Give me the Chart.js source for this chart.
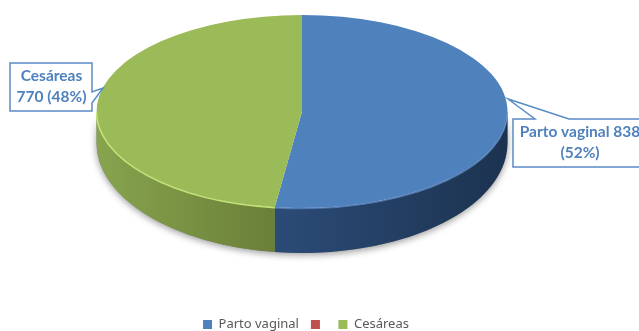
<!DOCTYPE html>
<html>
<head>
<meta charset="utf-8">
<script src="https://cdn.jsdelivr.net/npm/chart.js@4"></script>
<style>
  html, body { margin: 0; padding: 0; background: #fff; overflow: hidden; }
  #wrap { width: 639px; height: 331px; }
</style>
</head>
<body>
<div id="wrap"><canvas id="myPieChart" width="639" height="331"></canvas></div>
<script>
var categories = ['Parto vaginal', '', 'Cesáreas'];
var births = [838, 0, 770];
var colors = ['#4f81bd', '#c0504d', '#9bbb59'];

var total = births.reduce(function(a, b) { return a + b; }, 0);
function pct(i) { return Math.round(births[i] / total * 100) + '%'; }

// the pie is flattened on the canvas to look like the tilted 3D one
// bottom edge has its own centre and height because of the perspective
var view = { cx: 302, cy: 111.5, rx: 205.5, ry: 96.5, bottomCy: 143, bottomRy: 110 };

var sideStops = [
  [['#2b4b77', 0], ['#1c3350', 1]],
  [['#6e2c2a', 0], ['#6e2c2a', 1]],
  [['#87a44e', 0], ['#6a7f38', 1]]
];

function sidePath(ctx, a, b) {
  ctx.beginPath();
  ctx.ellipse(view.cx, view.cy, view.rx, view.ry, 0, a, b);
  ctx.ellipse(view.cx, view.bottomCy, view.rx, view.bottomRy, 0, b, a, true);
  ctx.closePath();
}

var pie3d = {
  id: 'pie3d',
  beforeDatasetsDraw: function(chart) {
    var ctx = chart.ctx;
    var arcs = chart.getDatasetMeta(0).data;

    // soft shadow under the disc
    ctx.save();
    ctx.shadowColor = 'rgba(0,0,0,0.4)';
    ctx.shadowBlur = 7;
    ctx.shadowOffsetY = 2;
    ctx.fillStyle = '#888';
    sidePath(ctx, 0, Math.PI);
    ctx.fill();
    ctx.restore();

    arcs.forEach(function(arc, i) {
      var a = Math.max(arc.startAngle, 0);
      var b = Math.min(arc.endAngle, Math.PI);
      if (b <= a) return;
      var x0 = view.cx + view.rx * Math.cos(b);
      var x1 = view.cx + view.rx * Math.cos(a);
      var g = ctx.createLinearGradient(x0, 0, x1, 0);
      sideStops[i].forEach(function(s) { g.addColorStop(s[1], s[0]); });
      ctx.fillStyle = g;
      sidePath(ctx, a, b);
      ctx.fill();
    });

    // flatten the real pie arcs
    var first = arcs[0];
    var r = first.outerRadius;
    ctx.save();
    ctx.translate(view.cx, view.cy);
    ctx.scale(view.rx / r, view.ry / r);
    ctx.translate(-first.x, -first.y);
  },
  afterDatasetsDraw: function(chart) {
    var ctx = chart.ctx;
    var arcs = chart.getDatasetMeta(0).data;
    ctx.restore();

    // light bevel round the front rim
    var rims = ['rgba(110,155,215,0.6)', '', 'rgba(200,232,120,0.95)'];
    arcs.forEach(function(arc, i) {
      var a = Math.max(arc.startAngle, 0);
      var b = Math.min(arc.endAngle, Math.PI);
      if (b <= a) return;
      ctx.save();
      ctx.strokeStyle = rims[i];
      ctx.lineWidth = 1.5;
      ctx.beginPath();
      ctx.ellipse(view.cx, view.cy + 0.5, view.rx, view.ry, 0, a, b);
      ctx.stroke();
      ctx.restore();
    });

    drawCallout(ctx, [[10, 63], [92, 63], [92, 92], [103, 88], [92, 103], [92, 111], [10, 111]],
      [categories[2], births[2] + ' (' + pct(2) + ')'], 51.5, 76);
    drawCallout(ctx, [[513, 119], [535, 119], [508, 99], [569, 119], [660, 119], [660, 167], [513, 167]],
      [categories[0] + ' ' + births[0], '(' + pct(0) + ')'], 580, 132);
  }
};

function drawCallout(ctx, pts, lines, tx, ty) {
  ctx.save();
  ctx.beginPath();
  pts.forEach(function(p, i) {
    if (i === 0) ctx.moveTo(p[0], p[1]); else ctx.lineTo(p[0], p[1]);
  });
  ctx.closePath();
  ctx.fillStyle = '#fff';
  ctx.fill();
  ctx.strokeStyle = '#5b8bc5';
  ctx.lineWidth = 1.5;
  ctx.stroke();
  ctx.fillStyle = '#4f81bd';
  ctx.font = 'bold 15.5px Lato';
  ctx.textAlign = 'center';
  ctx.textBaseline = 'middle';
  lines.forEach(function(t, i) { ctx.fillText(t, tx, ty + i * 21); });
  ctx.restore();
}

var ctx = document.getElementById('myPieChart').getContext('2d');
var myPieChart = new Chart(ctx, {
  type: 'pie',
  data: {
    labels: categories,
    datasets: [{
      data: births,
      backgroundColor: colors,
      borderWidth: 0,
      clip: false
    }]
  },
  options: {
    responsive: false,
    animation: false,
    layout: { padding: { right: 27, bottom: -10 } },
    plugins: {
      tooltip: { enabled: false },
      legend: {
        position: 'bottom',
        labels: {
          boxWidth: 9,
          boxHeight: 9,
          padding: 12,
          color: '#595959',
          font: { family: 'Noto Sans', size: 13 }
        }
      }
    }
  },
  plugins: [pie3d]
});
</script>
</body>
</html>
